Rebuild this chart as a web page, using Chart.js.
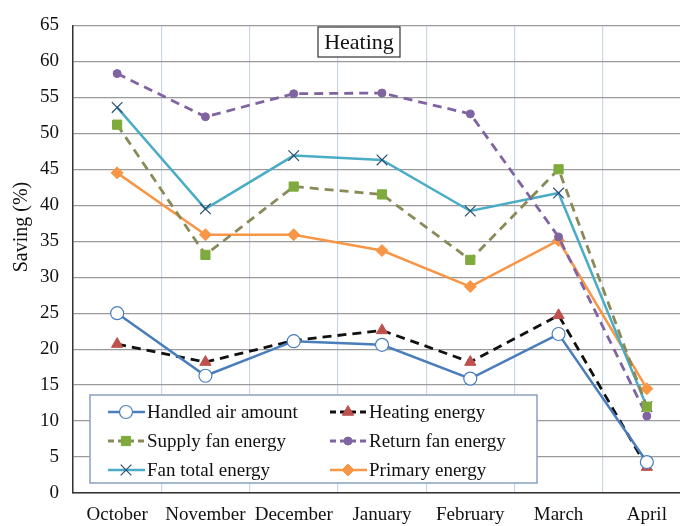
<!DOCTYPE html>
<html>
<head>
<meta charset="utf-8">
<script src="https://cdn.jsdelivr.net/npm/chart.js@4.4.1/dist/chart.umd.min.js"></script>
<style>
    html, body { margin: 0; padding: 0; background: #fff; overflow: hidden; }
    #wrap { width: 700px; height: 526px; }
</style>
</head>
<body>
<div id="wrap"><canvas id="saving-chart" width="700" height="526"></canvas></div>
<script>
const months = ['October', 'November', 'December', 'January', 'February', 'March', 'April'];
const yTicks = [0, 5, 10, 15, 20, 25, 30, 35, 40, 45, 50, 55, 60, 65];

const handledAir = [25.0, 16.3, 21.1, 20.6, 15.9, 22.1, 4.3];
const heatingEnergy = [20.7, 18.2, 21.2, 22.6, 18.2, 24.7, 3.6];
const supplyFan = [51.2, 33.1, 42.6, 41.5, 32.4, 45.0, 12.0];
const returnFan = [58.3, 52.3, 55.5, 55.6, 52.7, 35.6, 10.7];
const fanTotal = [53.6, 39.5, 46.9, 46.3, 39.2, 41.7, 12.0];
const primaryEnergy = [44.5, 35.9, 35.9, 33.7, 28.7, 35.1, 14.5];

const serif = '"Liberation Serif", "DejaVu Serif", serif';

const datasets = [
    {
        label: 'Handled air amount', data: handledAir,
        borderColor: '#4a7ebb', borderWidth: 2.5,
        pointStyle: 'circle', pointRadius: 6.5, pointBackgroundColor: '#fff',
        pointBorderColor: '#4a7ebb', pointBorderWidth: 1.2
    },
    {
        label: 'Heating energy', data: heatingEnergy,
        borderColor: '#111', borderWidth: 2.8, borderDash: [9, 6],
        pointStyle: 'triangle', pointRadius: 6.5, pointBackgroundColor: '#c0504d',
        pointBorderColor: '#c0504d', pointBorderWidth: 1
    },
    {
        label: 'Supply fan energy', data: supplyFan,
        borderColor: '#8a8a58', borderWidth: 2.8, borderDash: [9, 6],
        pointStyle: 'rect', pointRadius: 6.5, pointBackgroundColor: '#7eab3c',
        pointBorderColor: '#7eab3c', pointBorderWidth: 1
    },
    {
        label: 'Return fan energy', data: returnFan,
        borderColor: '#8064a2', borderWidth: 2.8, borderDash: [9, 6],
        pointStyle: 'circle', pointRadius: 4, pointBackgroundColor: '#8064a2',
        pointBorderColor: '#8064a2', pointBorderWidth: 1
    },
    {
        label: 'Fan total energy', data: fanTotal,
        borderColor: '#4bacc6', borderWidth: 2.5,
        pointStyle: 'crossRot', pointRadius: 7.5, pointBackgroundColor: '#2c4d75',
        pointBorderColor: '#2c4d75', pointBorderWidth: 1.2
    },
    {
        label: 'Primary energy', data: primaryEnergy,
        borderColor: '#f79646', borderWidth: 2.5,
        pointStyle: 'rectRot', pointRadius: 6, pointBackgroundColor: '#f79646',
        pointBorderColor: '#f79646', pointBorderWidth: 1
    }
];
datasets.forEach(d => { d.tension = 0; d.fill = false; d.backgroundColor = d.pointBackgroundColor; });

// axis title, boxed "Heating" label and in-plot legend
const overlayPlugin = {
    id: 'overlay',
    afterDatasetsDraw(chart) {
        const ctx = chart.ctx;
        ctx.save();
        // y axis title
        ctx.save();
        ctx.translate(22, 227);
        ctx.rotate(-Math.PI / 2);
        ctx.fillStyle = '#111';
        ctx.font = '20px ' + serif;
        ctx.textAlign = 'center';
        ctx.textBaseline = 'middle';
        ctx.fillText('Saving (%)', 0, 0);
        ctx.restore();

        // title box
        ctx.fillStyle = '#fff';
        ctx.fillRect(318, 27, 82, 30);
        ctx.strokeStyle = '#333';
        ctx.lineWidth = 1.2;
        ctx.strokeRect(318, 27, 82, 30);
        ctx.fillStyle = '#111';
        ctx.font = '22px ' + serif;
        ctx.textAlign = 'center';
        ctx.textBaseline = 'middle';
        ctx.fillText('Heating', 359, 43);

        // legend box
        ctx.fillStyle = '#fff';
        ctx.fillRect(90, 395, 447, 88);
        ctx.strokeStyle = '#8aa0c4';
        ctx.lineWidth = 1.5;
        ctx.strokeRect(90, 395, 447, 88);

        const cols = [108, 330];
        const rows = [412, 441, 470];
        ctx.font = '19px ' + serif;
        ctx.textAlign = 'left';
        chart.data.datasets.forEach((d, i) => {
            const x = cols[i % 2];
            const y = rows[Math.floor(i / 2)];
            ctx.strokeStyle = d.borderColor;
            ctx.lineWidth = d.borderWidth;
            ctx.setLineDash(d.borderDash ? [6, 4] : []);
            ctx.beginPath();
            ctx.moveTo(x, y);
            ctx.lineTo(x + 37, y);
            ctx.stroke();
            ctx.setLineDash([]);
            ctx.fillStyle = d.pointBackgroundColor;
            ctx.strokeStyle = d.pointBorderColor;
            ctx.lineWidth = d.pointBorderWidth;
            Chart.helpers.drawPoint(ctx, {
                pointStyle: d.pointStyle, radius: d.pointRadius, rotation: 0,
                borderWidth: d.pointBorderWidth
            }, x + 18, y);
            ctx.fillStyle = '#111';
            ctx.fillText(d.label, x + 39, y + 1);
        });
        ctx.restore();
    }
};

const ctx = document.getElementById('saving-chart').getContext('2d');
const savingChart = new Chart(ctx, {
    type: 'line',
    data: { labels: months, datasets: datasets },
    options: {
        responsive: false,
        animation: false,
        layout: { padding: { top: 15, right: 9, left: 0, bottom: 0 } },
        plugins: { legend: { display: false }, tooltip: { enabled: false } },
        scales: {
            x: {
                offset: true,
                grid: { offset: true, color: '#c9d5e8', lineWidth: 1.2, drawTicks: false },
                border: { color: '#333', width: 1.5 },
                ticks: { color: '#111', font: { family: serif, size: 19 }, padding: 11, maxRotation: 0 },
                afterFit(scale) { scale.height = 33; }
            },
            y: {
                min: 0, max: 65,
                afterBuildTicks(scale) { scale.ticks = yTicks.map(v => ({ value: v })); },
                grid: { color: '#9a9a9a', lineWidth: 1.2, drawTicks: false },
                border: { color: '#333', width: 1.5 },
                ticks: { color: '#111', font: { family: serif, size: 19 }, padding: 14 },
                afterFit(scale) { scale.width = 73; }
            }
        }
    },
    plugins: [overlayPlugin]
});
</script>
</body>
</html>
